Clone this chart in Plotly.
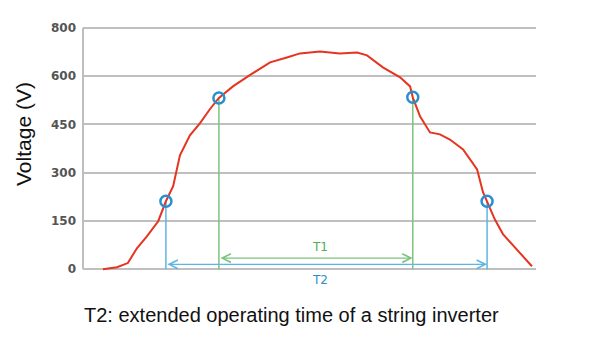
import numpy as np
import plotly.graph_objects as go

# y tick values (non-linear labels on equally spaced gridlines)
tick_volts = [0, 150, 300, 450, 600, 800]
tick_text = ["0", "150", "300", "450", "600", "800"]

# voltage curve (time in arbitrary units 0..100)
time = [4.4, 7.5, 9.9, 11.9, 14.1, 16.6, 18.3, 19.9, 21.4, 23.6, 25.8, 28.0, 30.0, 33.1,
        36.9, 41.3, 45.0, 47.9, 52.3, 56.7, 60.5, 62.7, 66.2, 70.0, 72.2, 72.8, 74.4,
        76.6, 78.8, 81.0, 83.9, 87.0, 88.3, 89.2, 90.9, 92.7, 95.8, 99.1]
voltage = [0, 6, 19, 65, 102, 149, 211, 258, 354, 416, 453, 497, 532, 568,
           605, 657, 677, 694, 702, 694, 698, 686, 636, 596, 568, 534, 475,
           425, 419, 403, 372, 310, 239, 211, 155, 109, 62, 9]

# marked start/stop points
mark_time = [18.3, 30.0, 72.8, 89.2]
mark_volt = [211, 532, 534, 211]

# scale: voltage -> grid position
def ypos(v):
    return np.interp(v, tick_volts, list(range(len(tick_volts))))

RED = "#e5341f"
BLUE = "#2a8fce"
LBLUE = "#5db6e3"
GREEN = "#7cc47f"
TGREEN = "#4caf50"
GRID = "#bfbfbf"

fig = go.Figure()

# left axis line spanning only the gridded area
fig.add_shape(type="line", xref="paper", yref="y", x0=0, x1=0, y0=0, y1=len(tick_volts) - 1,
              line=dict(color=GRID, width=2), layer="below")

# vertical drop lines
for i, (t, v) in enumerate(zip(mark_time, mark_volt)):
    col = LBLUE if i in (0, 3) else GREEN
    fig.add_trace(go.Scatter(x=[t, t], y=[ypos(v), 0], mode="lines",
                             line=dict(color=col, width=1.5), hoverinfo="skip",
                             showlegend=False, cliponaxis=False))

fig.add_trace(go.Scatter(x=time, y=ypos(voltage), mode="lines",
                         line=dict(color=RED, width=2), showlegend=False))

fig.add_trace(go.Scatter(x=mark_time, y=ypos(mark_volt), mode="markers",
                         marker=dict(symbol="circle-open", size=11,
                                     line=dict(color=BLUE, width=2.5), color=BLUE),
                         showlegend=False, cliponaxis=False))

# T1 / T2 double arrows
t1_y = 0.23
t2_y = 0.10
fig.add_annotation(x=mark_time[2], y=t1_y, ax=mark_time[1], ay=t1_y,
                   xref="x", yref="y", axref="x", ayref="y", text="",
                   showarrow=True, arrowhead=5, startarrowhead=5, arrowside="end+start",
                   arrowwidth=1.3, arrowcolor=GREEN, arrowsize=1.3, startarrowsize=1.3)
fig.add_annotation(x=mark_time[3], y=t2_y, ax=mark_time[0], ay=t2_y,
                   xref="x", yref="y", axref="x", ayref="y", text="",
                   showarrow=True, arrowhead=5, startarrowhead=5, arrowside="end+start",
                   arrowwidth=1.3, arrowcolor=LBLUE, arrowsize=1.3, startarrowsize=1.3)
fig.add_annotation(x=52.3, y=0.46, text="T1", showarrow=False,
                   font=dict(family="DejaVu Sans", size=12, color=TGREEN))
fig.add_annotation(x=52.3, y=(275 - 281) / 251, xref="x", yref="paper", text="T2",
                   showarrow=False, xanchor="center", yanchor="middle",
                   font=dict(family="DejaVu Sans", size=12, color=BLUE))

# y axis title
fig.add_annotation(x=(23 - 83) / 453, y=(274 - 134) / 251, xref="paper", yref="paper",
                   text="Voltage (V)", textangle=-90, showarrow=False,
                   xanchor="center", yanchor="middle",
                   font=dict(family="Liberation Sans, Arial", size=21, color="#111111"))

# caption
fig.add_annotation(x=(291 - 83) / 453, y=(274 - 315) / 251, xref="paper", yref="paper",
                   text="T2: extended operating time of a string inverter", showarrow=False,
                   xanchor="center", yanchor="middle",
                   font=dict(family="Liberation Sans, Arial", size=20, color="#111111"))

fig.update_layout(
    width=600, height=338,
    margin=dict(l=83, r=64, t=23, b=64),
    paper_bgcolor="white", plot_bgcolor="white",
    xaxis=dict(range=[0, 100], showgrid=False, zeroline=False, showticklabels=False,
               showline=False, ticks=""),
    yaxis=dict(range=[-0.1, 5.1], tickvals=list(range(len(tick_volts))), ticktext=tick_text,
               showgrid=True, gridcolor=GRID, gridwidth=2, zeroline=False,
               showline=False, ticks="",
               ticklabelstandoff=6,
               tickfont=dict(family="DejaVu Sans", size=12, color="#555555", weight="bold")),
)

fig.write_html("out.html")
